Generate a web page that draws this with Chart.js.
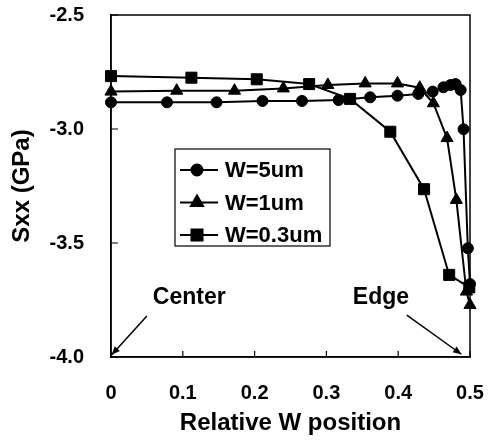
<!DOCTYPE html>
<html>
<head>
<meta charset="utf-8">
<script src="https://cdn.jsdelivr.net/npm/chart.js@4/dist/chart.umd.min.js"></script>
<style>
  html, body { margin: 0; padding: 0; background: #fff; }
  #wrap { width: 488px; height: 443px; }
</style>
</head>
<body>
<div id="wrap"><canvas id="c" width="488" height="443"></canvas></div>
<script>
// ---- data ----
const seriesLabels = ['W=5um', 'W=1um', 'W=0.3um'];
const w5x = [0, 0.078, 0.147, 0.211, 0.266, 0.317, 0.361, 0.399, 0.428, 0.448, 0.463, 0.473, 0.480, 0.487, 0.491, 0.497, 0.500];
const w5y = [-2.883, -2.883, -2.883, -2.877, -2.877, -2.873, -2.861, -2.854, -2.846, -2.836, -2.817, -2.807, -2.803, -2.829, -3.001, -3.523, -3.680];
const w1x = [0, 0.0915, 0.172, 0.240, 0.302, 0.354, 0.399, 0.430, 0.449, 0.468, 0.481, 0.495, 0.500];
const w1y = [-2.836, -2.832, -2.832, -2.822, -2.807, -2.800, -2.800, -2.819, -2.887, -3.040, -3.311, -3.713, -3.772];
const w03x = [0, 0.112, 0.203, 0.276, 0.333, 0.389, 0.436, 0.471, 0.499];
const w03y = [-2.768, -2.775, -2.782, -2.803, -2.868, -3.012, -3.264, -3.640, -3.695];
const xTicks = [0, 0.1, 0.2, 0.3, 0.4, 0.5];
const yTicks = [-2.5, -3.0, -3.5, -4.0];
const annotations = [
  { text: 'Center', tx: 0.109, ty: -3.741, ax0: 0.050, ay0: -3.82, ax1: 0.001, ay1: -3.99 },
  { text: 'Edge',   tx: 0.376, ty: -3.741, ax0: 0.412, ay0: -3.816, ax1: 0.488, ay1: -3.988 }
];

const FONT = '"Liberation Sans", Arial, sans-serif';
const pts = (xs, ys) => xs.map((x, i) => ({ x: x, y: ys[i] }));
const styles = [
  { pointStyle: 'circle', radius: 5.5 },
  { pointStyle: 'triangle', radius: 7 },
  { pointStyle: 'rect', radius: 7.8 }
];
const dataSets = [pts(w5x, w5y), pts(w1x, w1y), pts(w03x, w03y)];

const frame = {
  id: 'frame',
  afterDraw(chart) {
    const { ctx, chartArea: a, scales } = chart;
    ctx.save();
    ctx.strokeStyle = '#000';
    ctx.lineWidth = 1.5;
    ctx.strokeRect(a.left, a.top, a.right - a.left, a.bottom - a.top);
    // inner ticks
    ctx.lineWidth = 1.2;
    ctx.beginPath();
    xTicks.forEach(v => {
      const px = scales.x.getPixelForValue(v);
      ctx.moveTo(px, a.bottom); ctx.lineTo(px, a.bottom - 6);
    });
    yTicks.forEach(v => {
      const py = scales.y.getPixelForValue(v);
      ctx.moveTo(a.left, py); ctx.lineTo(a.left + 7, py);
    });
    ctx.stroke();

    // annotations
    ctx.fillStyle = '#000';
    ctx.font = 'bold 23px ' + FONT;
    ctx.textAlign = 'center';
    ctx.textBaseline = 'middle';
    annotations.forEach(an => {
      ctx.fillText(an.text, scales.x.getPixelForValue(an.tx), scales.y.getPixelForValue(an.ty));
      const x0 = scales.x.getPixelForValue(an.ax0), y0 = scales.y.getPixelForValue(an.ay0);
      const x1 = scales.x.getPixelForValue(an.ax1), y1 = scales.y.getPixelForValue(an.ay1);
      ctx.lineWidth = 1.5;
      ctx.beginPath(); ctx.moveTo(x0, y0); ctx.lineTo(x1, y1); ctx.stroke();
      const ang = Math.atan2(y1 - y0, x1 - x0), L = 9, h = 0.4;
      ctx.beginPath();
      ctx.moveTo(x1, y1);
      ctx.lineTo(x1 - L * Math.cos(ang - h), y1 - L * Math.sin(ang - h));
      ctx.lineTo(x1 - L * Math.cos(ang + h), y1 - L * Math.sin(ang + h));
      ctx.closePath(); ctx.fill();
    });

    // legend box
    const bx = a.left + 64, by = a.top + 134, bw = 155, bh = 97;
    ctx.fillStyle = '#fff';
    ctx.fillRect(bx, by, bw, bh);
    ctx.lineWidth = 1.2;
    ctx.strokeStyle = '#000';
    ctx.strokeRect(bx, by, bw, bh);
    ctx.textAlign = 'left';
    ctx.font = 'bold 22px ' + FONT;
    chart.data.datasets.forEach((ds, i) => {
      const cy = by + 21 + i * 32.5;
      ctx.lineWidth = 2;
      ctx.beginPath(); ctx.moveTo(bx + 5, cy); ctx.lineTo(bx + 43, cy); ctx.stroke();
      ctx.fillStyle = '#000';
      Chart.helpers.drawPoint(ctx, { pointStyle: ds.pointStyle, radius: ds.pointRadius, rotation: 0, borderWidth: 1 }, bx + 22, cy);
      ctx.fill();
      ctx.fillText(ds.label, bx + 50, cy + 1);
    });
    ctx.restore();
  }
};

new Chart(document.getElementById('c'), {
  type: 'scatter',
  data: {
    datasets: dataSets.map((d, i) => ({
      label: seriesLabels[i],
      data: d,
      showLine: true,
      borderColor: '#000',
      backgroundColor: '#000',
      borderWidth: 2,
      pointStyle: styles[i].pointStyle,
      pointRadius: styles[i].radius,
      pointHoverRadius: styles[i].radius,
      pointBackgroundColor: '#000',
      pointBorderColor: '#000',
      pointBorderWidth: 1,
      tension: 0,
      clip: false
    }))
  },
  options: {
    responsive: false,
    animation: false,
    devicePixelRatio: 1,
    layout: { padding: { left: 0, right: 18, top: 15, bottom: 0 } },
    plugins: { legend: { display: false }, tooltip: { enabled: false } },
    scales: {
      x: {
        type: 'linear', min: 0, max: 0.5,
        afterBuildTicks: s => { s.ticks = xTicks.map(v => ({ value: v })); },
        afterFit: s => { s.height = 86; },
        grid: { display: true, drawOnChartArea: false, drawTicks: true, tickLength: 22, tickColor: 'rgba(0,0,0,0)' },
        border: { display: true, color: '#000', width: 1.5 },
        ticks: {
          color: '#000', padding: 2,
          font: { family: FONT, size: 20, weight: 'bold' },
          callback: v => (v === 0 ? '0' : Number(v).toFixed(1))
        },
        title: {
          display: true, text: 'Relative W position', color: '#000',
          font: { family: FONT, size: 24, weight: 'bold' }, padding: { top: 4, bottom: 5 }
        }
      },
      y: {
        type: 'linear', min: -4.0, max: -2.5,
        afterBuildTicks: s => { s.ticks = yTicks.map(v => ({ value: v })); },
        afterFit: s => { s.width = 111; },
        grid: { display: true, drawOnChartArea: false, drawTicks: true, tickLength: 24, tickColor: 'rgba(0,0,0,0)' },
        border: { display: true, color: '#000', width: 1.5 },
        ticks: {
          color: '#000', padding: 3,
          font: { family: FONT, size: 20, weight: 'bold' },
          callback: v => Number(v).toFixed(1)
        },
        title: {
          display: true, text: 'Sxx (GPa)', color: '#000',
          font: { family: FONT, size: 24, weight: 'bold' }, padding: { top: 8, bottom: 0 }
        }
      }
    }
  },
  plugins: [frame]
});
</script>
</body>
</html>
